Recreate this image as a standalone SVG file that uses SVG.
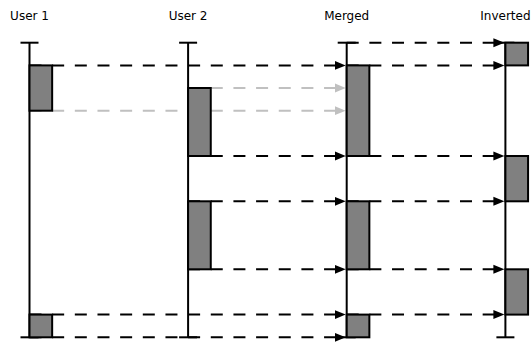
<svg xmlns="http://www.w3.org/2000/svg" width="531" height="343" viewBox="0 0 531 343">
  <style>
    .lbl { font-family: "DejaVu Sans", "Liberation Sans", sans-serif; font-size: 12px; fill: #000; text-anchor: middle; }
    .life { stroke: #000; stroke-width: 2; fill: none; }
    .box { fill: #808080; stroke: #000; stroke-width: 2; }
    .msg { stroke: #000; stroke-width: 2; stroke-dasharray: 12 10.66; fill: none; marker-end: url(#ah); }
    .msg-g { stroke: #c0c0c0; stroke-width: 2; stroke-dasharray: 12 10.66; fill: none; marker-end: url(#ahg); }
  </style>
  <defs>
    <marker id="ah" markerUnits="userSpaceOnUse" markerWidth="12" markerHeight="10" refX="11" refY="5" orient="auto">
      <path d="M0,0.5 L11,5 L0,9.5 Z" fill="#000"/>
    </marker>
    <marker id="ahg" markerUnits="userSpaceOnUse" markerWidth="12" markerHeight="10" refX="11" refY="5" orient="auto">
      <path d="M0,0.5 L11,5 L0,9.5 Z" fill="#c0c0c0"/>
    </marker>
  </defs>
  <rect x="0" y="0" width="531" height="343" fill="#fff"/>

  <g id="connectors">
    <line class="msg" x1="346.7" y1="42.7" x2="504.4" y2="42.7"/>
    <line class="msg" x1="29.5" y1="65.4" x2="345.7" y2="65.4"/>
    <line class="msg" x1="346.7" y1="65.4" x2="504.4" y2="65.4"/>
    <line class="msg-g" x1="188.1" y1="88" x2="345.7" y2="88"/>
    <line class="msg-g" x1="29.5" y1="110.7" x2="345.7" y2="110.7"/>
    <line class="msg" x1="188.1" y1="156" x2="345.7" y2="156"/>
    <line class="msg" x1="346.7" y1="156" x2="504.4" y2="156"/>
    <line class="msg" x1="188.1" y1="201.3" x2="345.7" y2="201.3"/>
    <line class="msg" x1="346.7" y1="201.3" x2="504.4" y2="201.3"/>
    <line class="msg" x1="188.1" y1="269.3" x2="345.7" y2="269.3"/>
    <line class="msg" x1="346.7" y1="269.3" x2="504.4" y2="269.3"/>
    <line class="msg" x1="29.5" y1="314.6" x2="345.7" y2="314.6"/>
    <line class="msg" x1="346.7" y1="314.6" x2="504.4" y2="314.6"/>
    <line class="msg" x1="29.5" y1="337.3" x2="345.7" y2="337.3"/>
  </g>

  <g id="user1">
    <text class="lbl" x="29.5" y="20">User 1</text>
    <line class="life" x1="29.5" y1="42.7" x2="29.5" y2="337.3"/>
    <line class="life" x1="20.5" y1="42.7" x2="38.5" y2="42.7"/>
    <line class="life" x1="20.5" y1="337.3" x2="38.5" y2="337.3"/>
    <rect class="box" x="29.5" y="65.4" width="22.66" height="45.3"/>
    <rect class="box" x="29.5" y="314.6" width="22.66" height="22.7"/>
  </g>

  <g id="user2">
    <text class="lbl" x="188.1" y="20">User 2</text>
    <line class="life" x1="188.1" y1="42.7" x2="188.1" y2="337.3"/>
    <line class="life" x1="179.1" y1="42.7" x2="197.1" y2="42.7"/>
    <line class="life" x1="179.1" y1="337.3" x2="197.1" y2="337.3"/>
    <rect class="box" x="188.1" y="88" width="22.66" height="68"/>
    <rect class="box" x="188.1" y="201.3" width="22.66" height="68"/>
  </g>

  <g id="merged">
    <text class="lbl" x="346.7" y="20">Merged</text>
    <line class="life" x1="346.7" y1="42.7" x2="346.7" y2="337.3"/>
    <line class="life" x1="337.7" y1="42.7" x2="355.7" y2="42.7"/>
    <line class="life" x1="337.7" y1="337.3" x2="355.7" y2="337.3"/>
    <rect class="box" x="346.7" y="65.4" width="22.66" height="90.6"/>
    <rect class="box" x="346.7" y="201.3" width="22.66" height="68"/>
    <rect class="box" x="346.7" y="314.6" width="22.66" height="22.7"/>
  </g>

  <g id="inverted">
    <text class="lbl" x="505.4" y="20">Inverted</text>
    <line class="life" x1="505.4" y1="42.7" x2="505.4" y2="337.3"/>
    <line class="life" x1="496.4" y1="42.7" x2="514.4" y2="42.7"/>
    <line class="life" x1="496.4" y1="337.3" x2="514.4" y2="337.3"/>
    <rect class="box" x="505.4" y="42.7" width="22.66" height="22.7"/>
    <rect class="box" x="505.4" y="156" width="22.66" height="45.3"/>
    <rect class="box" x="505.4" y="269.3" width="22.66" height="45.3"/>
  </g>
</svg>
